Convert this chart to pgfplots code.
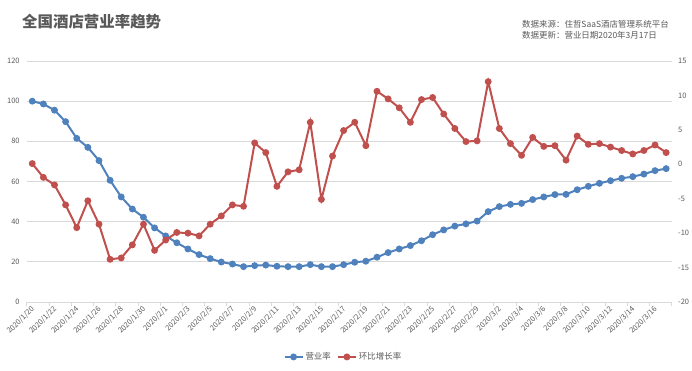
\documentclass[border=0pt]{standalone}
\usepackage{fontspec}
\setmainfont{Noto Sans CJK SC}
\usepackage{pgfplots}
\usepackage{pgfplotstable}
\pgfplotsset{compat=1.18}
\definecolor{cblue}{HTML}{4F81BD}
\definecolor{cred}{HTML}{C0504D}
\definecolor{ctext}{HTML}{595959}
\definecolor{cgrid}{HTML}{D9D9D9}
\pgfplotstableread{
i occ chg
0 100.0 0.1
1 98.6 -1.9
2 95.5 -3.0
3 89.8 -5.9
4 81.5 -9.2
5 77.0 -5.3
6 70.4 -8.7
7 60.6 -13.8
8 52.3 -13.6
9 46.3 -11.7
10 42.2 -8.7
11 36.9 -12.5
12 32.9 -11.0
13 29.5 -9.9
14 26.4 -10.0
15 23.6 -10.4
16 21.6 -8.7
17 19.9 -7.5
18 18.9 -5.9
19 17.6 -6.1
20 18.1 3.1
21 18.4 1.7
22 17.8 -3.2
23 17.6 -1.1
24 17.6 -0.8
25 18.6 6.1
26 17.6 -5.1
27 17.6 1.2
28 18.6 4.9
29 19.8 6.1
30 20.3 2.7
31 22.3 10.6
32 24.6 9.5
33 26.4 8.2
34 28.1 6.1
35 30.5 9.4
36 33.5 9.7
37 35.9 7.3
38 37.8 5.2
39 38.9 3.3
40 40.3 3.4
41 45.0 12.0
42 47.5 5.2
43 48.6 3.0
44 49.1 1.3
45 51.0 3.9
46 52.3 2.6
47 53.5 2.7
48 53.6 0.6
49 55.9 4.1
50 57.6 2.9
51 59.1 3.0
52 60.4 2.5
53 61.6 2.0
54 62.4 1.5
55 63.7 2.0
56 65.4 2.8
57 66.4 1.7
}\datatable
\pgfplotsset{
  common/.style={
    width=645bp, height=241bp, scale only axis,
    at={(0,0)}, anchor=south west,
    xmin=-0.5, xmax=57.5,
    /pgf/number format/assume math mode=true,
    tick label style={font=\fontsize{7.5}{9}\selectfont, text=ctext},
  },
  myline/.style={line width=2bp, mark=*, mark size=2.4bp, mark options={solid}},
}
\begin{document}
\begin{tikzpicture}
\useasboundingbox (-26.7bp,-69bp) rectangle (665.3bp,302bp);
\begin{axis}[common,
  ymin=0, ymax=120, ytick={0,20,...,120},
  axis x line=bottom, axis y line=left,
  axis line style={-},
  y axis line style={draw=none},
  x axis line style={draw=cgrid, line width=0.75bp},
  ymajorgrids, grid style={draw=cgrid, line width=0.75bp},
  ytick style={draw=none},
  yticklabel style={xshift=-1.5bp},
  xtick={0,2,...,56},
  xticklabels={2020/1/20,2020/1/22,2020/1/24,2020/1/26,2020/1/28,2020/1/30,2020/2/1,2020/2/3,2020/2/5,2020/2/7,2020/2/9,2020/2/11,2020/2/13,2020/2/15,2020/2/17,2020/2/19,2020/2/21,2020/2/23,2020/2/25,2020/2/27,2020/2/29,2020/3/2,2020/3/4,2020/3/6,2020/3/8,2020/3/10,2020/3/12,2020/3/14,2020/3/16},
  xtick style={draw=none},
  xticklabel style={rotate=45, anchor=east, yshift=-3bp, xshift=1.5bp},
  extra x ticks={-0.5,1.5,...,57.5},
  extra x tick labels={},
  extra x tick style={grid=none, major tick length=4bp, tick align=outside, xtick style={draw=cgrid, line width=0.75bp}},
]
\addplot[myline, color=cblue] table[x=i, y=occ] {\datatable};
\end{axis}
\begin{axis}[common,
  ymin=-20, ymax=15, ytick={-20,-15,...,15},
  axis x line=none, axis y line*=right,
  axis line style={draw=none},
  ytick style={draw=none},
  yticklabel style={xshift=3bp},
  legend style={at={(0.491,-0.228)}, anchor=center, draw=none, fill=none,
    legend columns=2, font=\fontsize{8.5}{10}\selectfont, text=ctext,
    /tikz/every even column/.append style={column sep=4bp}},
  legend image code/.code={\draw[mark repeat=2,mark phase=2,#1] plot coordinates {(0bp,0bp) (9bp,0bp) (18bp,0bp)};},
]
\addlegendimage{myline, color=cblue}
\addlegendentry{营业率}
\addplot[myline, color=cred] table[x=i, y=chg] {\datatable};
\addlegendentry{环比增长率}
\end{axis}
\node[anchor=west, inner sep=0, font=\fontsize{15.5}{18}\selectfont\bfseries, text=ctext] at (-4.7bp,280bp) {全国酒店营业率趋势};
\node[anchor=north west, inner sep=0, align=left, font=\fontsize{8.5}{10.5}\selectfont, text=ctext] at (495.3bp,281.5bp) {数据来源：住哲SaaS酒店管理系统平台\\数据更新：营业日期2020年3月17日};
\end{tikzpicture}
\end{document}
